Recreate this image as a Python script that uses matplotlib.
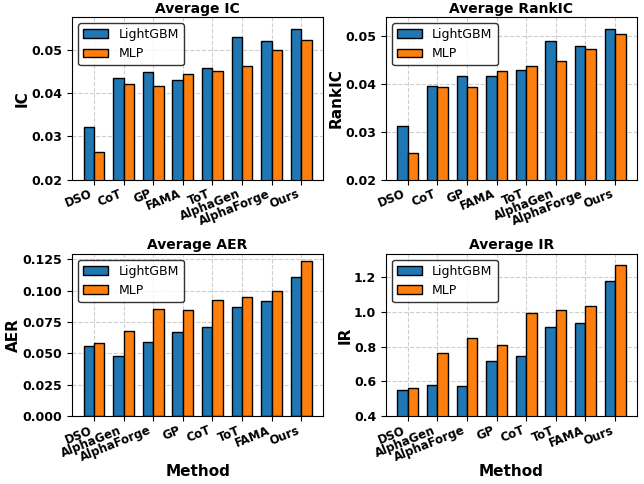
import numpy as np
import matplotlib
matplotlib.use("Agg")
import matplotlib.pyplot as plt
from matplotlib.ticker import MultipleLocator

# methods per panel (order differs between top and bottom rows)
methods_top = ["DSO", "CoT", "GP", "FAMA", "ToT", "AlphaGen", "AlphaForge", "Ours"]
methods_bottom = ["DSO", "AlphaGen", "AlphaForge", "GP", "CoT", "ToT", "FAMA", "Ours"]

ic_lgb = [0.0321, 0.0434, 0.0449, 0.0431, 0.0458, 0.0531, 0.0520, 0.0549]
ic_mlp = [0.0265, 0.0421, 0.0416, 0.0444, 0.0452, 0.0464, 0.0499, 0.0522]

rankic_lgb = [0.0312, 0.0395, 0.0416, 0.0415, 0.0428, 0.0488, 0.0479, 0.0513]
rankic_mlp = [0.0256, 0.0393, 0.0392, 0.0426, 0.0436, 0.0447, 0.0472, 0.0504]

aer_lgb = [0.0561, 0.0481, 0.0590, 0.0673, 0.0707, 0.0870, 0.0918, 0.1109]
aer_mlp = [0.0580, 0.0676, 0.0854, 0.0846, 0.0923, 0.0947, 0.1000, 0.1234]

ir_lgb = [0.550, 0.577, 0.573, 0.715, 0.747, 0.910, 0.935, 1.179]
ir_mlp = [0.561, 0.765, 0.851, 0.809, 0.995, 1.010, 1.035, 1.271]

panels = [
    ("Average IC", "IC", methods_top, ic_lgb, ic_mlp, 0.02, 0.01, False),
    ("Average RankIC", "RankIC", methods_top, rankic_lgb, rankic_mlp, 0.02, 0.01, False),
    ("Average AER", "AER", methods_bottom, aer_lgb, aer_mlp, 0.0, 0.025, True),
    ("Average IR", "IR", methods_bottom, ir_lgb, ir_mlp, 0.4, 0.2, True),
]

fig, axes = plt.subplots(2, 2, figsize=(6.44, 4.84), dpi=100)
plt.subplots_adjust(left=0.112, right=0.989, top=0.965, bottom=0.14, wspace=0.25, hspace=0.455)

width = 0.35
for ax, (title, ylabel, names, lgb, mlp, ymin, step, show_x) in zip(axes.flat, panels):
    x = np.arange(len(names))
    ax.bar(x - width / 2, lgb, width, label="LightGBM", color="#1f77b4", edgecolor="black", linewidth=1)
    ax.bar(x + width / 2, mlp, width, label="MLP", color="#ff7f0e", edgecolor="black", linewidth=1)
    ax.set_title(title, fontsize=10, fontweight="bold", pad=3)
    ax.set_ylabel(ylabel, fontsize=11, fontweight="bold", labelpad=1)
    if show_x:
        ax.set_xlabel("Method", fontsize=11, fontweight="bold", labelpad=0)
    ax.set_xticks(x)
    ax.set_xticklabels(names, rotation=22, ha="right", fontweight="bold", fontsize=8.5)
    ax.tick_params(axis="x", pad=2)
    ax.set_ylim(ymin, max(max(lgb), max(mlp)) * 1.05)
    ax.yaxis.set_major_locator(MultipleLocator(step))
    for lab in ax.get_yticklabels():
        lab.set_fontweight("bold")
        lab.set_fontsize(9)
    ax.grid(True, linestyle="--", alpha=0.6)
    ax.set_axisbelow(True)
    ax.legend(loc="upper left", fontsize=9, edgecolor="black", fancybox=True)

fig.savefig("out.png", dpi=100)
